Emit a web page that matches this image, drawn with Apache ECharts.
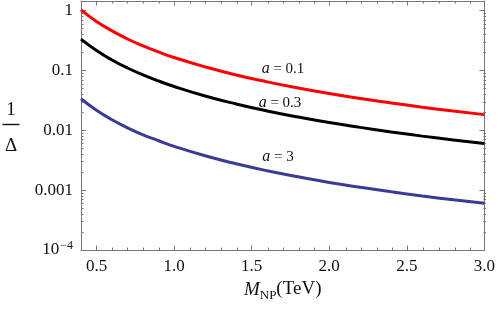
<!DOCTYPE html>
<html>
<head>
<meta charset="utf-8">
<script src="https://cdn.jsdelivr.net/npm/echarts@6/dist/echarts.min.js"></script>
<style>html,body{margin:0;padding:0;background:#fff}#c{width:498px;height:310px}</style>
</head>
<body>
<div id="c"></div>
<script>
// Data
const mass = [0.4, 0.5, 0.6, 0.7, 0.8, 0.9, 1.0, 1.2, 1.4, 1.6, 1.8, 2.0, 2.2, 2.4, 2.6, 2.8, 3.0];
const invDeltaA01 = [1.03, 0.66, 0.46, 0.336, 0.258, 0.204, 0.165, 0.115, 0.084, 0.0645, 0.051, 0.0412, 0.034, 0.0287, 0.0244, 0.021, 0.0183];
const invDeltaA03 = [0.335, 0.216, 0.150, 0.110, 0.0845, 0.0667, 0.054, 0.0375, 0.0276, 0.0211, 0.0167, 0.0135, 0.0112, 0.0094, 0.0080, 0.0069, 0.0060];
const invDeltaA3 = [0.0337, 0.0216, 0.0150, 0.0110, 0.0084, 0.0067, 0.0054, 0.00375, 0.00276, 0.00211, 0.00167, 0.00134, 0.00112, 0.00094, 0.00080, 0.00069, 0.000605];
const seriesNames = ['a = 0.1', 'a = 0.3', 'a = 3'];
const xTickValues = [0.5, 1.0, 1.5, 2.0, 2.5, 3.0];
const xMinorTickValues = [0.4, 0.6, 0.7, 0.8, 0.9, 1.1, 1.2, 1.3, 1.4, 1.6, 1.7, 1.8, 1.9, 2.1, 2.2, 2.3, 2.4, 2.6, 2.7, 2.8, 2.9];
const yTickValues = [0.0001, 0.001, 0.01, 0.1, 1];
const yTickLabels = ['{b|10}{sup|−4}', '0.001', '0.01', '0.1', '1'];

const yMinorTickValues = [];
for (let e = -4; e < 0; e++) {
  for (let m = 2; m <= 9; m++) yMinorTickValues.push(+(m * Math.pow(10, e)).toPrecision(3));
}

const pairs = ys => mass.map((x, i) => [x, ys[i]]);
const frameColor = '#767676';
const font = 'Liberation Serif';
const gridBox = { left: 81, right: 12, top: 1, bottom: 60 };

function xAxisDef(gridIndex, position, major) {
  return {
    type: 'value', gridIndex, position, min: 0.4, max: 3.0,
    axisLine: { show: major, lineStyle: { color: frameColor, width: 1 } },
    axisTick: { show: true, inside: true, length: major ? 4.5 : 2.5, lineStyle: { color: frameColor },
      customValues: major ? xTickValues : xMinorTickValues },
    axisLabel: { show: major && position === 'bottom', customValues: xTickValues,
      formatter: v => v.toFixed(1), fontFamily: font, fontSize: 17, color: '#111', margin: 8 },
    splitLine: { show: false },
    name: (major && position === 'bottom') ? '{m|M}{s|NP}{t|(TeV)}' : '',
    nameLocation: 'middle', nameGap: 30,
    nameTextStyle: { rich: {
      m: { fontFamily: font, fontStyle: 'italic', fontSize: 19, color: '#111', verticalAlign: 'bottom' },
      s: { fontFamily: font, fontSize: 13, color: '#111', verticalAlign: 'bottom', padding: [0, 0, -3, 0] },
      t: { fontFamily: font, fontSize: 19, color: '#111', verticalAlign: 'bottom' }
    } }
  };
}
function yAxisDef(gridIndex, position, major) {
  return {
    type: 'log', logBase: 10, gridIndex, position, min: 0.0001, max: 1.45,
    axisLine: { show: major, lineStyle: { color: frameColor, width: 1 } },
    axisTick: { show: true, inside: true, length: major ? 5 : 2.5, lineStyle: { color: frameColor },
      customValues: major ? yTickValues : yMinorTickValues },
    axisLabel: { show: major && position === 'left', customValues: yTickValues,
      formatter: v => yTickLabels[Math.round(Math.log10(v)) + 4],
      fontFamily: font, fontSize: 17, color: '#111', margin: 8,
      rich: { b: { fontFamily: font, fontSize: 17, color: '#111' },
              sup: { fontFamily: font, fontSize: 12, color: '#111', verticalAlign: 'top', padding: [0, 0, 8, 1] } } },
    splitLine: { show: false }
  };
}

const chart = echarts.init(document.getElementById('c'), null, { renderer: 'canvas' });
const colors = ['#ff0000', '#000000', '#3b3b97'];
const data = [invDeltaA01, invDeltaA03, invDeltaA3];

const annoRich = { i: { fontFamily: font, fontStyle: 'italic', fontSize: 16, fill: '#111' } };
chart.setOption({
  animation: false,
  backgroundColor: '#fff',
  grid: [Object.assign({}, gridBox), Object.assign({}, gridBox)],
  xAxis: [xAxisDef(0, 'bottom', true), xAxisDef(0, 'top', true), xAxisDef(1, 'bottom', false), xAxisDef(1, 'top', false)],
  yAxis: [yAxisDef(0, 'left', true), yAxisDef(0, 'right', true), yAxisDef(1, 'left', false), yAxisDef(1, 'right', false)],
  series: data.map((ys, i) => ({
    name: seriesNames[i], type: 'line', xAxisIndex: 0, yAxisIndex: 0,
    data: pairs(ys), smooth: true, showSymbol: false,
    lineStyle: { color: colors[i], width: 3 }, z: 3 - i
  })),
  graphic: [
    { type: 'text', x: 11, y: 110, style: { text: '1', align: 'center', verticalAlign: 'middle', fontFamily: font, fontSize: 19, fill: '#111' } },
    { type: 'line', shape: { x1: 2.5, y1: 124.5, x2: 19.5, y2: 124.5 }, style: { stroke: '#111', lineWidth: 1.4 } },
    { type: 'text', x: 11, y: 146, style: { text: 'Δ', align: 'center', verticalAlign: 'middle', fontFamily: font, fontSize: 19, fill: '#111' } },
    { type: 'text', x: 283, y: 69, style: { text: '{i|a} = 0.1', align: 'center', verticalAlign: 'middle', fontFamily: font, fontSize: 15, fill: '#111', rich: annoRich } },
    { type: 'text', x: 280, y: 103, style: { text: '{i|a} = 0.3', align: 'center', verticalAlign: 'middle', fontFamily: font, fontSize: 15, fill: '#111', rich: annoRich } },
    { type: 'text', x: 278, y: 157, style: { text: '{i|a} = 3', align: 'center', verticalAlign: 'middle', fontFamily: font, fontSize: 15, fill: '#111', rich: annoRich } }
  ]
});
</script>
</body>
</html>
